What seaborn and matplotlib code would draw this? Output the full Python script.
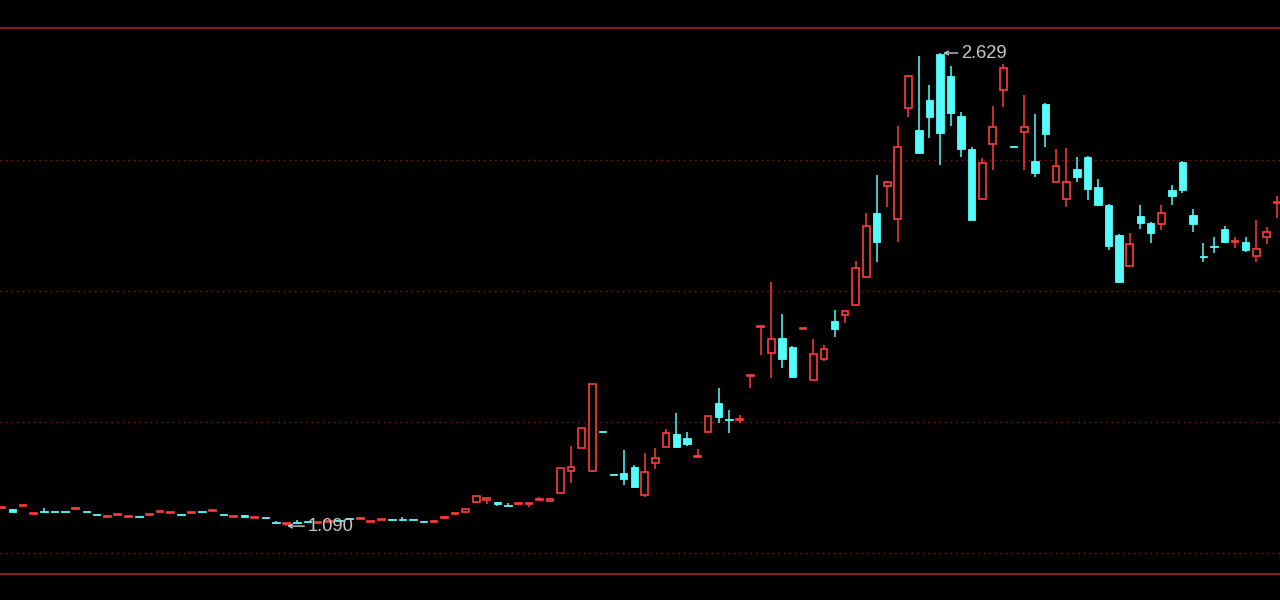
import numpy as np
import pandas as pd
import matplotlib
matplotlib.use("Agg")
import matplotlib.pyplot as plt
import seaborn as sns

# ---- data ----
opens = [1.149,1.145,1.154,1.128,1.139,1.136,1.136,1.144,1.136,1.127,
         1.118,1.125,1.118,1.120,1.125,1.134,1.131,1.127,1.131,1.136,
         1.138,1.127,1.118,1.126,1.115,1.117,1.101,1.096,1.101,1.104,
         1.098,1.102,1.107,1.114,1.111,1.102,1.108,1.111,1.111,1.111,
         1.104,1.102,1.115,1.128,1.135,1.168,1.176,1.166,1.156,1.161,
         1.161,1.173,1.172,1.197,1.269,1.344,1.269,1.397,1.257,1.262,
         1.282,1.191,1.295,1.347,1.389,1.376,1.313,1.396,1.490,1.436,
         1.434,1.577,1.736,1.653,1.702,1.672,1.730,1.565,1.633,1.757,
         1.777,1.809,1.900,2.108,2.196,2.089,2.450,2.378,2.476,2.625,
         2.554,2.424,2.317,2.154,2.333,2.509,2.324,2.372,2.278,2.463,
         2.209,2.154,2.252,2.291,2.193,2.134,2.037,1.936,2.099,2.076,
         2.073,2.183,2.274,2.102,1.966,1.999,2.056,2.013,2.014,1.969,
         2.030,2.140]
highs = [1.151,1.145,1.156,1.130,1.149,1.136,1.136,1.152,1.136,1.127,
         1.120,1.127,1.120,1.120,1.127,1.136,1.133,1.127,1.133,1.136,
         1.140,1.127,1.120,1.126,1.122,1.117,1.106,1.098,1.110,1.104,
         1.100,1.104,1.107,1.117,1.118,1.104,1.110,1.111,1.119,1.111,
         1.104,1.110,1.122,1.130,1.145,1.188,1.178,1.168,1.165,1.163,
         1.163,1.184,1.178,1.279,1.350,1.409,1.552,1.397,1.257,1.337,
         1.288,1.327,1.344,1.406,1.458,1.396,1.341,1.448,1.539,1.467,
         1.451,1.579,1.738,1.884,1.780,1.676,1.732,1.698,1.679,1.793,
         1.793,1.952,2.108,2.232,2.212,2.392,2.556,2.619,2.525,2.629,
         2.587,2.437,2.323,2.287,2.457,2.593,2.324,2.492,2.431,2.465,
         2.317,2.320,2.291,2.293,2.219,2.137,2.040,2.043,2.134,2.078,
         2.134,2.200,2.276,2.121,2.011,2.030,2.066,2.030,2.030,2.086,
         2.063,2.164]
lows = [1.149,1.136,1.154,1.128,1.136,1.134,1.134,1.144,1.134,1.125,
        1.118,1.125,1.118,1.118,1.125,1.134,1.131,1.125,1.131,1.134,
        1.138,1.125,1.118,1.119,1.115,1.115,1.099,1.090,1.099,1.102,
        1.098,1.102,1.105,1.112,1.111,1.102,1.108,1.109,1.109,1.109,
        1.102,1.102,1.115,1.128,1.135,1.165,1.161,1.155,1.154,1.161,
        1.152,1.173,1.168,1.197,1.230,1.344,1.269,1.395,1.255,1.223,
        1.214,1.184,1.275,1.347,1.344,1.350,1.313,1.396,1.425,1.393,
        1.425,1.539,1.646,1.572,1.604,1.572,1.730,1.565,1.627,1.705,
        1.750,1.806,1.897,1.949,2.128,2.014,2.421,2.302,2.353,2.265,
        2.392,2.291,2.086,2.154,2.248,2.453,2.322,2.248,2.226,2.323,
        2.209,2.128,2.209,2.151,2.131,1.988,1.881,1.936,2.056,2.011,
        2.053,2.134,2.174,2.047,1.949,1.978,2.011,1.995,1.982,1.949,
        2.008,2.092]
closes = [1.151,1.136,1.156,1.130,1.136,1.134,1.134,1.146,1.134,1.125,
          1.120,1.127,1.120,1.118,1.127,1.136,1.133,1.125,1.133,1.134,
          1.140,1.125,1.120,1.119,1.117,1.115,1.099,1.098,1.099,1.102,
          1.100,1.104,1.105,1.112,1.113,1.104,1.110,1.109,1.109,1.109,
          1.102,1.104,1.117,1.130,1.145,1.188,1.178,1.163,1.154,1.163,
          1.163,1.175,1.178,1.279,1.282,1.409,1.552,1.395,1.255,1.243,
          1.217,1.266,1.311,1.393,1.347,1.357,1.315,1.448,1.445,1.434,
          1.436,1.579,1.738,1.698,1.633,1.575,1.732,1.650,1.666,1.731,
          1.790,1.929,2.066,2.014,2.209,2.323,2.554,2.304,2.421,2.369,
          2.434,2.317,2.086,2.271,2.388,2.580,2.322,2.388,2.239,2.366,
          2.261,2.209,2.226,2.187,2.134,2.001,1.884,2.008,2.076,2.043,
          2.108,2.164,2.183,2.073,1.964,1.997,2.014,2.015,1.988,1.991,
          2.047,2.142]

grid_levels = [2.281, 1.855, 1.428, 1.002]
frame_levels = [2.710, 0.934]
max_label = "2.629"
min_label = "1.090"

df = pd.DataFrame({"open": opens, "high": highs, "low": lows, "close": closes})
df["idx"] = np.arange(len(df))
df["up"] = df["close"] >= df["open"]

RED = "#ff3b3b"
CYAN = "#54fcfc"
BG = "#000000"

sns.set_theme(style="dark", rc={"axes.facecolor": BG, "figure.facecolor": BG})
plt.rcParams["font.family"] = ["Liberation Sans", "DejaVu Sans"]

fig = plt.figure(figsize=(12.8, 6.0), dpi=100)
ax = fig.add_axes([0, 0, 1, 1])
ax.set_facecolor(BG)

# grid + frame lines
for lv in grid_levels:
    ax.axhline(lv, color="#8a1010", lw=1.0, ls=(0, (1.2, 2.8)), zorder=1)
for lv in frame_levels:
    ax.axhline(lv, color="#a01a28", lw=1.3, zorder=1)

w = 0.64
minh = 0.004
up = df[df["up"]]
dn = df[~df["up"]]

# wicks
ax.vlines(up["idx"], up["low"], up["high"], color=RED, lw=1.1, zorder=2)
ax.vlines(dn["idx"], dn["low"], dn["high"], color=CYAN, lw=1.1, zorder=2)

# bodies
up_h = np.maximum(up["close"] - up["open"], minh)
dn_h = np.maximum(dn["open"] - dn["close"], minh)
ax.bar(up["idx"], up_h, bottom=up["open"], width=w, facecolor=BG,
       edgecolor=RED, linewidth=1.2, zorder=3)
ax.bar(dn["idx"], dn_h, bottom=dn["close"], width=w + 0.06, facecolor=CYAN,
       edgecolor=CYAN, linewidth=0.6, zorder=3)

# extreme labels
imax = int(np.argmax(highs))
imin = int(np.argmin(lows))
ann_kw = dict(color="#c8c8c8", fontsize=13.2, ha="left", va="center",
              arrowprops=dict(arrowstyle="->", color="#c8c8c8", lw=1.0,
                              shrinkA=0, shrinkB=0, mutation_scale=7))
ax.annotate(max_label, xy=(imax + 0.3, highs[imax]),
            xytext=(imax + 2.0, highs[imax]), **ann_kw)
ax.annotate(min_label, xy=(imin + 0.05, lows[imin]),
            xytext=(imin + 2.0, lows[imin] - 0.002), **ann_kw)

ax.set_xlim(-0.18, 121.26)
ax.set_ylim(0.849, 2.8015)
ax.set_xticks([])
ax.set_yticks([])
ax.grid(False)
for s in ax.spines.values():
    s.set_visible(False)

fig.savefig("out.png", dpi=100, facecolor=BG)
